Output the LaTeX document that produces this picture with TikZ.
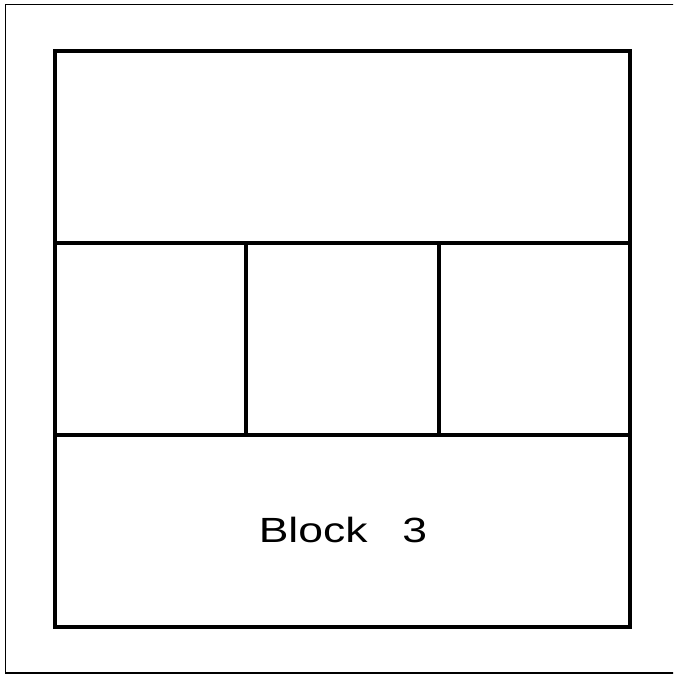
\documentclass[tikz,border=0pt]{standalone}
\usepackage{fontspec}
\setmainfont{Liberation Sans}
\begin{document}
\begin{tikzpicture}[x=1pt,y=-1pt,
  thinline/.style={line width=1.8pt},
  thickline/.style={line width=3.8pt},
  blocklabel/.style={inner sep=0pt}]
\useasboundingbox (0,0) rectangle (673,675);
\begin{scope}
\clip (0,0) rectangle (673,675);
\draw[thinline] (5.5,4.5) rectangle (680,673);
\end{scope}
\draw[thickline] (55,51) rectangle (630,627);
\draw[thickline] (55,243) -- (630,243);
\draw[thickline] (55,435) -- (630,435);
\draw[thickline] (246,243) -- (246,435);
\draw[thickline] (439,243) -- (439,435);
\node[blocklabel] (b3) at (343,530) {\scalebox{1.27}[1]{\fontsize{35}{40}\selectfont Block\hspace{27.5pt}3}};
\end{tikzpicture}
\end{document}
